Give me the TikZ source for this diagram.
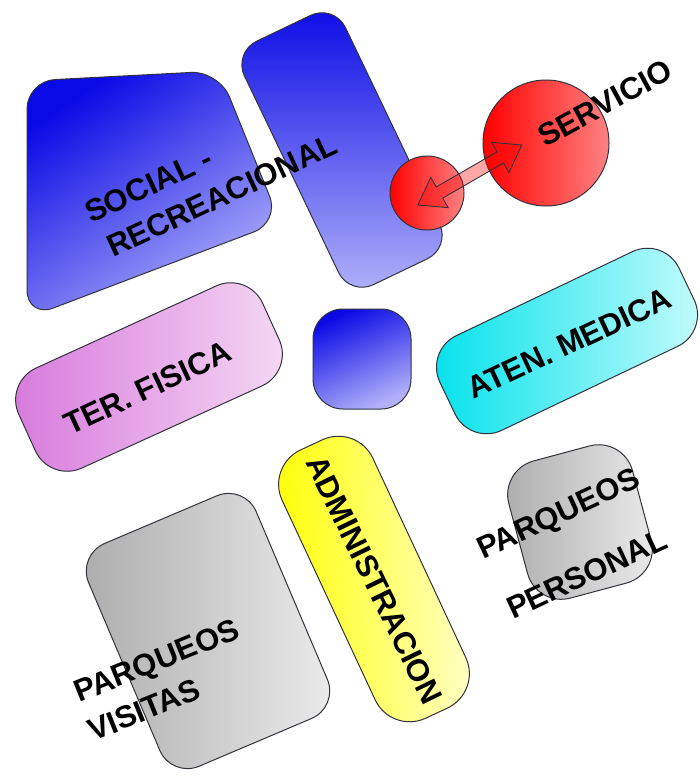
\documentclass[tikz,border=0pt]{standalone}
\usepackage{fontspec}
\setmainfont{Liberation Sans}[BoldFont={Liberation Sans Bold}]
\newfontfamily\lblfont{Liberation Sans Bold}
\usetikzlibrary{shapes.arrows,calc}
\definecolor{blueDk}{RGB}{10,10,230}
\definecolor{blueLt}{RGB}{178,178,250}
\definecolor{pinkDk}{RGB}{215,120,220}
\definecolor{pinkLt}{RGB}{245,218,245}
\definecolor{cyanDk}{RGB}{0,225,235}
\definecolor{cyanLt}{RGB}{200,252,252}
\definecolor{yelDk}{RGB}{255,255,0}
\definecolor{yelLt}{RGB}{255,255,205}
\definecolor{grayDk}{RGB}{172,172,172}
\definecolor{grayLt}{RGB}{236,236,236}
\definecolor{redDk}{RGB}{255,0,0}
\definecolor{redLt}{RGB}{255,130,130}
\definecolor{edge}{RGB}{50,50,60}
\begin{document}
\begin{tikzpicture}[x=1pt,y=-1pt,
  zone/.style={rectangle, draw=edge, line width=1pt, inner sep=0pt},
  lbl/.style={font=\lblfont\fontsize{31}{37}\selectfont, inner sep=0pt, anchor=base west, text=black}]
\fill[white] (0,0) rectangle (700,776);
\useasboundingbox (0,0) rectangle (700,776);
% social - recreacional shape
\path[draw=edge, line width=1pt, rounded corners=28pt, top color=blueDk, bottom color=blueLt, shading angle=35]
  (27,81) -- (219,71) -- (280,222) -- (27,318) -- cycle;
\node[zone, rounded corners=26pt, minimum width=112pt, minimum height=270pt, rotate=25.6, top color=blueDk, bottom color=blueLt] (tall) at (342,150) {};
\node[zone, rounded corners=35pt, minimum width=268pt, minimum height=110pt, rotate=24.5, left color=pinkDk, right color=pinkLt] (ter) at (149,377) {};
\node[zone, rounded corners=30pt, minimum width=98pt, minimum height=100pt, top color=blueDk, bottom color=blueLt, shading angle=25] (hub) at (362,359) {};
\node[zone, rounded corners=35pt, minimum width=265pt, minimum height=105pt, rotate=25.5, left color=cyanDk, right color=cyanLt] (aten) at (567,341) {};
\node[zone, rounded corners=38pt, minimum width=100pt, minimum height=296pt, rotate=25, left color=yelDk, right color=yelLt] (admin) at (374,579) {};
\node[zone, rounded corners=30pt, minimum width=182pt, minimum height=242pt, rotate=23, left color=grayDk, right color=grayLt] (pvis) at (208,631) {};
\node[zone, rounded corners=35pt, minimum width=128pt, minimum height=142pt, rotate=15, left color=grayDk, right color=grayLt] (pper) at (580,522) {};
% servicio circles
\node[circle, draw=edge, line width=1pt, minimum size=74pt, inner sep=0pt, left color=redDk, right color=redLt] (srvA) at (427,193) {};
\node[circle, draw=edge, line width=1pt, minimum size=126pt, inner sep=0pt, left color=redDk, right color=redLt] (srvB) at (546,143) {};
\node[double arrow, draw=edge, line width=0.9pt, fill=red, fill opacity=0.35, minimum height=120pt, inner sep=6pt, double arrow head extend=11pt, double arrow tip angle=70, rotate=30] (link) at ($(srvA)!0.36!(srvB)$) {};
% labels
\node[lbl, rotate=25] (tSocA) at (91,224) {SOCIAL -};
\node[lbl, rotate=25] (tSocB) at (113,258) {RECREACIONAL};
\node[lbl, rotate=28.5] (tServ) at (545,148) {SERVICIO};
\node[lbl, rotate=25] (tTer) at (70,436) {TER. FISICA};
\node[lbl, rotate=25] (tAten) at (473,400) {ATEN. MEDICA};
\node[lbl, rotate=-64] (tAdm) at (305,462) {ADMINISTRACION};
\node[lbl, rotate=22] (tPvA) at (79,703) {PARQUEOS};
\node[lbl, rotate=22] (tPvB) at (93,742) {VISITAS};
\node[lbl, rotate=25] (tPpA) at (483,560) {PARQUEOS};
\node[lbl, rotate=25] (tPpB) at (513,620) {PERSONAL};
\end{tikzpicture}
\end{document}
